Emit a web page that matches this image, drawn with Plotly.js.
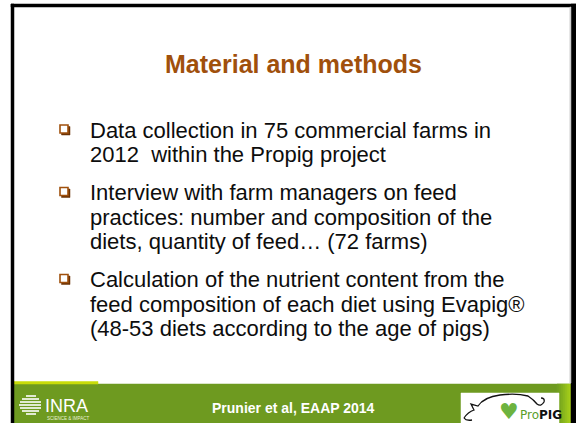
<!DOCTYPE html>
<html>
<head>
<meta charset="utf-8">
<script src="https://cdn.plot.ly/plotly-3.0.1.min.js"></script>
<style>
  html, body { margin: 0; padding: 0; background: #fff; }
  #slide { width: 576px; height: 423px; }
</style>
</head>
<body>
<div id="slide"></div>
<script>
const titleText = 'Material and methods';
const bullet1 = ['Data collection in 75 commercial farms in', '2012  within the Propig project'];
const bullet2 = ['Interview with farm managers on feed', 'practices: number and composition of the', 'diets, quantity of feed\u2026 (72 farms)'];
const bullet3 = ['Calculation of the nutrient content from the', 'feed composition of each diet using Evapig\u00ae', '(48-53 diets according to the age of pigs)'];
const footerText = 'Prunier et al, EAAP 2014';

const bullets = [bullet1, bullet2, bullet3];
const textFont = 'Liberation Sans, Arial, sans-serif';
const brown = '#a0500c';
const green = '#6e9a20';
const W = 576, H = 423;

const annotations = [];
const shapes = [];

function box(x0, x1, y0, y1, color) {
  return {
    type: 'rect', xref: 'x', yref: 'y', layer: 'above',
    x0: x0, x1: x1, y0: y0, y1: y1,
    fillcolor: color, line: { color: color, width: 0.5 }
  };
}

// title
annotations.push({
  x: 293, y: 64, text: '<b>' + titleText + '</b>', showarrow: false,
  xanchor: 'center', yanchor: 'middle',
  font: { family: textFont, size: 25, color: brown }
});

// bullet paragraphs
let baseline = 137;
bullets.forEach(lines => {
  shapes.push(box(61.5, 70, baseline - 10.5, baseline - 2, '#6b3204'));
  shapes.push({
    type: 'rect', xref: 'x', yref: 'y', layer: 'above',
    x0: 60, x1: 68, y0: baseline - 12, y1: baseline - 4,
    fillcolor: '#fff', line: { color: brown, width: 1.6 }
  });
  lines.forEach((line, i) => {
    annotations.push({
      x: 88, y: baseline - 7, text: line, showarrow: false,
      xanchor: 'left', yanchor: 'middle',
      font: { family: textFont, size: 22, color: '#0d0d0d' }
    });
    if (i < lines.length - 1) baseline += 24.5;
  });
  baseline += 38;
});

// footer band
shapes.push(box(14, 571, 384, 423, green));
const fade = ['#72a020', '#78a61f', '#80ae1e', '#89b61d', '#93bf1c', '#9cc61b', '#a4cc1b'];
fade.forEach((c, i) => {
  shapes.push(box(557 + i * 2, 559 + i * 2, 384, 423, c));
});
shapes.push(box(14, 98, 381.5, 384, '#c8dc0a'));

// frame
shapes.push(box(11, 576, 4, 7, '#000'));
shapes.push(box(11, 14, 4, 423, '#000'));
shapes.push(box(571, 576, 4, 423, '#000'));
shapes.push(box(569.8, 571, 7, 383, '#cfcfcf'));

annotations.push({
  x: 293, y: 408, text: '<b>' + footerText + '</b>', showarrow: false,
  xanchor: 'center', yanchor: 'middle',
  font: { family: textFont, size: 14, color: '#fff' }
});

// INRA logo
const globe = [[396, 26, 36], [399, 22, 39], [402, 20, 41], [405, 19, 41], [408, 20, 41], [411, 22, 39], [414, 26, 36]];
globe.forEach(g => {
  shapes.push({ type: 'line', layer: 'above', x0: g[1], x1: g[2], y0: g[0], y1: g[0], line: { color: '#fff', width: 1.6 } });
});
annotations.push({
  x: 43, y: 406, text: 'INRA', showarrow: false, xanchor: 'left', yanchor: 'middle',
  font: { family: textFont, size: 18, color: '#fff' }
});
annotations.push({
  x: 45, y: 418, text: 'SCIENCE & IMPACT', showarrow: false, xanchor: 'left', yanchor: 'middle',
  font: { family: textFont, size: 4.5, color: '#e8f0d8' }
});

// ProPIG logo
shapes.push(box(461, 559, 393, 423, '#fff'));
shapes.push({
  type: 'path', layer: 'above',
  path: 'M 464 418 Q 468 412 474 410 L 471 404 L 478 406 Q 484 397 500 395 Q 516 393 528 396 Q 534 400 537 404 Q 541 407 544 402 Q 545 398 541 398',
  line: { color: '#111', width: 1.3 }
});
shapes.push({
  type: 'path', layer: 'above',
  path: 'M 464 418 Q 466 421 472 420',
  line: { color: '#111', width: 1.3 }
});
annotations.push({
  x: 509, y: 411, text: '\u2665', showarrow: false, xanchor: 'center', yanchor: 'middle',
  font: { family: 'DejaVu Sans', size: 22, color: '#6db33f' }
});
annotations.push({
  x: 518, y: 415, text: 'Pro<b><span style="color:#111">PIG</span></b>', showarrow: false,
  xanchor: 'left', yanchor: 'middle',
  font: { family: 'DejaVu Sans', size: 12, color: '#5a9e2a' }
});

const layout = {
  width: W, height: H,
  margin: { l: 0, r: 0, t: 0, b: 0 },
  paper_bgcolor: '#fff', plot_bgcolor: '#fff',
  xaxis: { range: [0, W], visible: false, fixedrange: true },
  yaxis: { range: [H, 0], visible: false, fixedrange: true },
  showlegend: false,
  shapes: shapes,
  annotations: annotations
};

Plotly.newPlot('slide', [], layout, { displayModeBar: false, staticPlot: true });
</script>
</body>
</html>
